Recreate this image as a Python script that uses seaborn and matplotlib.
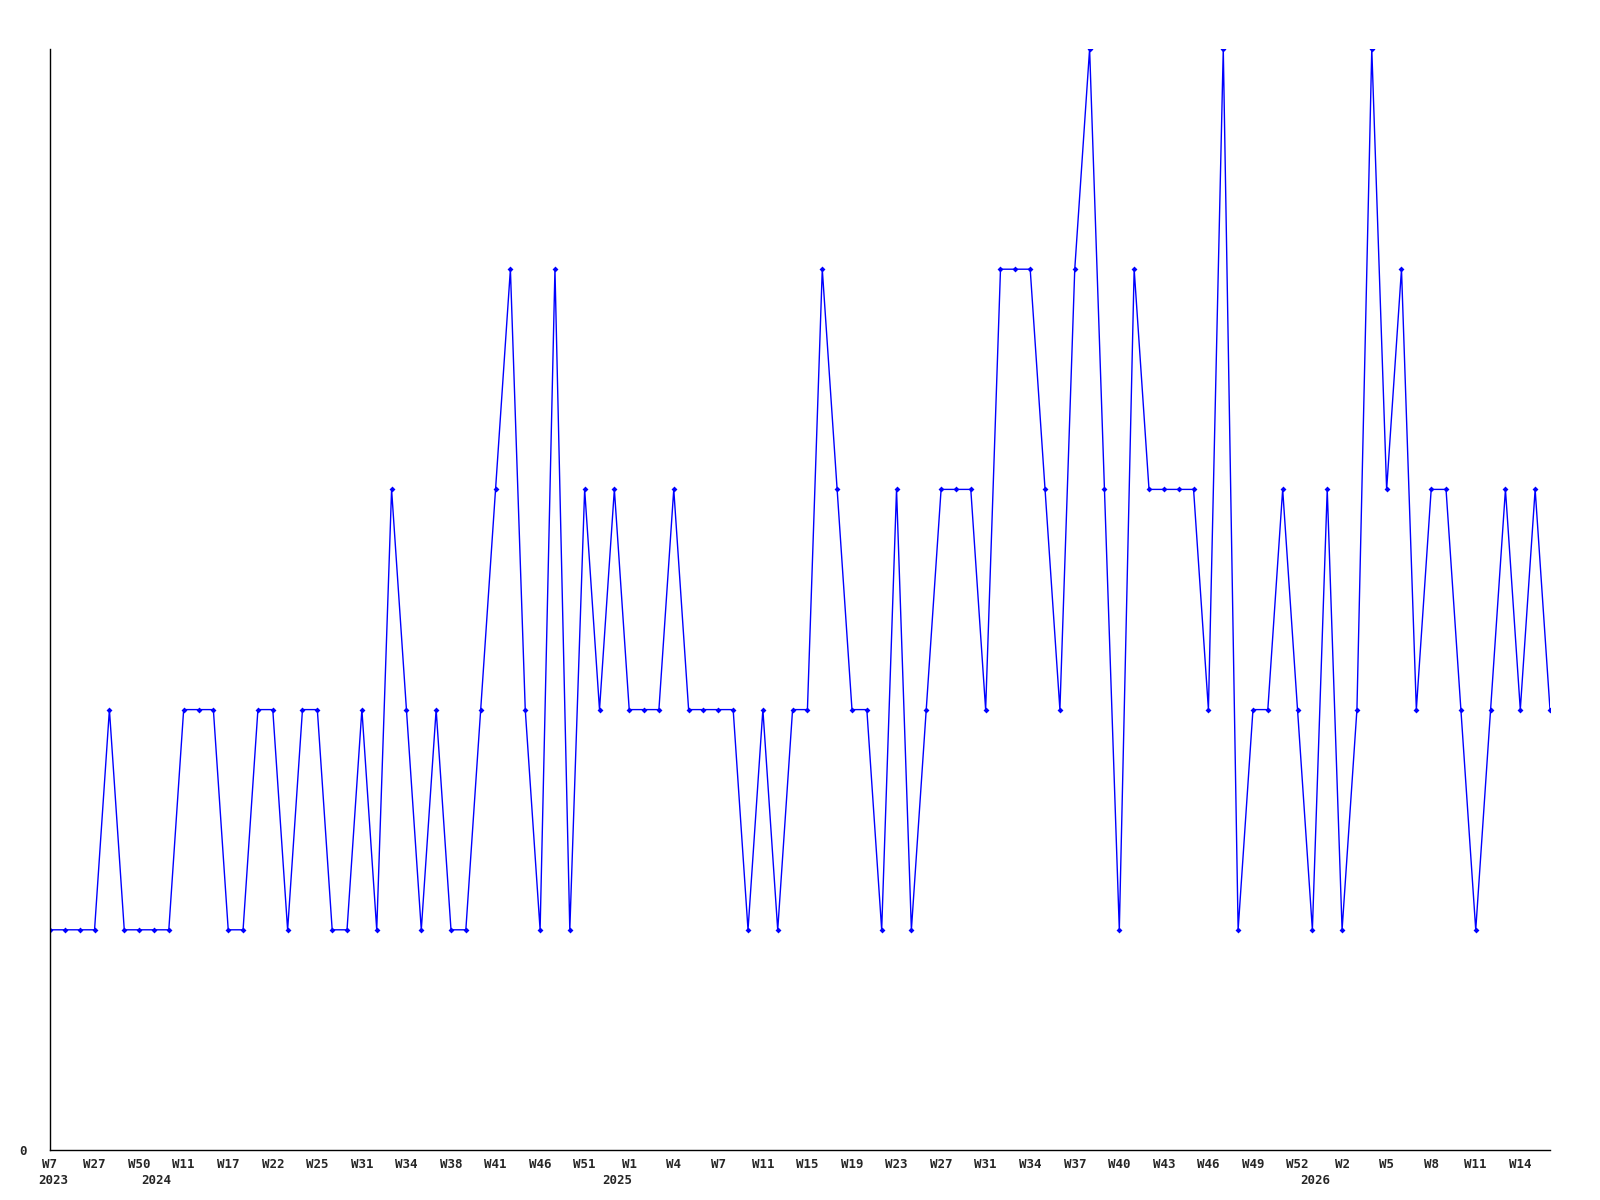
import seaborn as sns
import matplotlib.pyplot as plt
import pandas as pd

# valeurs hebdomadaires (une par point)
valeurs = [
    1, 1, 1, 1, 2, 1, 1, 1, 1, 2, 2, 2, 1,
    1, 2, 2, 1, 2, 2, 1, 1, 2, 1, 3, 2, 1,
    2, 1, 1, 2, 3, 4, 2, 1, 4, 1, 3, 2, 3,
    2, 2, 2, 3, 2, 2, 2, 2, 1, 2, 1, 2, 2,
    4, 3, 2, 2, 1, 3, 1, 2, 3, 3, 3, 2,
    4, 4, 4, 3, 2, 4, 5, 3, 1, 4, 3, 3, 3,
    3, 2, 5, 1, 2, 2, 3, 2, 1, 3, 1, 2, 5,
    3, 4, 2, 3, 3, 2, 1, 2, 3, 2, 3, 2,
]

# une etiquette tous les 3 points
semaines = ["W7", "W27", "W50", "W11", "W17", "W22", "W25", "W31", "W34", "W38",
            "W41", "W46", "W51", "W1", "W4", "W7", "W11", "W15", "W19", "W23",
            "W27", "W31", "W34", "W37", "W40", "W43", "W46", "W49", "W52", "W2",
            "W5", "W8", "W11", "W14"]

annees = ["2023", "2024", "2025", "2026"]
debut_annee = [0, 7, 38, 85]  # index du point ou commence l'annee

sns.set_style("white")
plt.rcParams['font.family'] = ['DejaVu Sans Mono']

fig = plt.figure(figsize=(16, 12), dpi=100)
ax = fig.add_axes([50 / 1600, 50 / 1200, 1500 / 1600, 1101 / 1200])

df = pd.DataFrame({'x': range(len(valeurs)), 'y': valeurs})
sns.lineplot(data=df, x='x', y='y', ax=ax, color='#0000ff', linewidth=1,
             marker='D', markersize=3, markeredgewidth=0)

ax.set_xlim(0, len(valeurs) - 1)
ax.set_ylim(0, 5)

ax.set_xticks(range(0, len(valeurs), 3))
ax.set_xticklabels(semaines, fontsize=9, fontweight='bold')
ax.set_yticks([0])
ax.set_yticklabels(["0"], fontsize=9, fontweight='bold')
ax.tick_params(axis='x', length=0, pad=6)
ax.tick_params(axis='y', length=0, pad=17)

for a, i in zip(annees, debut_annee):
    ax.annotate(a, xy=(i, -0.028), xycoords=ax.get_xaxis_transform(),
                xytext=(2, 0), textcoords='offset points',
                ha='center', va='center', fontsize=9, fontweight='bold')

ax.set_xlabel("")
ax.set_ylabel("")
for s in ['top', 'right']:
    ax.spines[s].set_visible(False)
for s in ['left', 'bottom']:
    ax.spines[s].set_color('black')
    ax.spines[s].set_linewidth(1)

fig.savefig('out.png', dpi=100)
